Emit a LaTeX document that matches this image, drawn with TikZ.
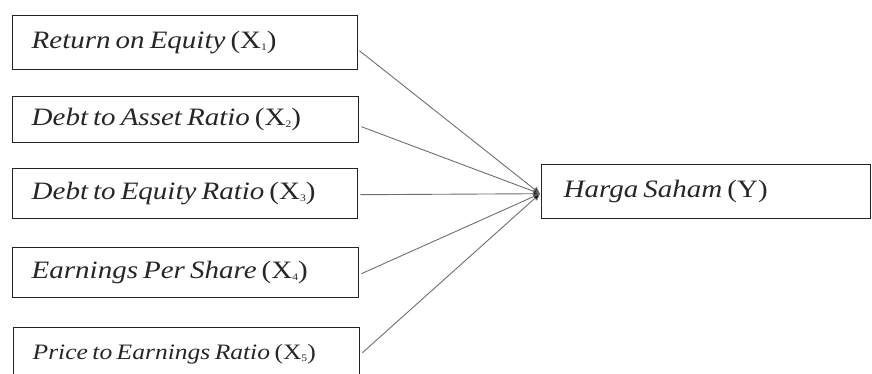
\documentclass[tikz,border=0pt]{standalone}
\usepackage{fontspec}
\setmainfont[FakeStretch=1.16,WordSpace=0.7]{Liberation Serif}
\usetikzlibrary{arrows.meta}
\definecolor{boxline}{RGB}{35,35,35}
\definecolor{conn}{RGB}{110,110,110}
\newcommand{\sbx}[1]{\raisebox{-1.5pt}{\fontsize{10}{10}\selectfont #1}}
\newcommand{\boxtxt}[2]{\makebox[#1][l]{#2}}
\tikzset{
  varbox/.style={draw=boxline, line width=1.4pt, anchor=north west, inner xsep=19pt, inner ysep=0pt,
    font=\fontsize{25}{27}\selectfont, text=black!85},
  link/.style={draw=conn, line width=0.9pt, -{Triangle[length=7pt,width=6pt,fill=black]}}
}
\begin{document}
\begin{tikzpicture}[x=1pt,y=-1pt]
\useasboundingbox (0,0) rectangle (872,374);
\clip (0,0) rectangle (872,374);
\node[varbox, minimum height=54pt] (x1) at (12,15) {\boxtxt{307pt}{\textit{Return on Equity} (X\sbx{1})}};
\node[varbox, minimum height=46pt] (x2) at (12,96) {\boxtxt{308pt}{\textit{Debt to Asset Ratio} (X\sbx{2})}};
\node[varbox, minimum height=50pt] (x3) at (12,168) {\boxtxt{307pt}{\textit{Debt to Equity Ratio} (X\sbx{3})}};
\node[varbox, minimum height=50pt] (x4) at (12,247) {\boxtxt{308pt}{\textit{Earnings Per Share} (X\sbx{4})}};
\node[varbox, minimum height=54pt, font=\fontsize{22}{24}\selectfont] (x5) at (13,327) {\boxtxt{308pt}{\textit{Price to Earnings Ratio} (X\sbx{5})}};
\node[varbox, inner xsep=22pt, minimum height=54pt] (y) at (541,164) {\boxtxt{285pt}{\textit{Harga Saham} (Y)}};
\coordinate (tip) at ([xshift=-1pt,yshift=-2pt]y.west);
\draw[link] ([xshift=1pt,yshift=-8pt]x1.east) -- (tip);
\draw[link] ([xshift=2pt,yshift=-7pt]x2.east) -- (tip);
\draw[link] ([xshift=2pt,yshift=-1pt]x3.east) -- (tip);
\draw[link] ([xshift=2pt,yshift=-1pt]x4.east) -- (tip);
\draw[link] ([xshift=2pt,yshift=2pt]x5.east) -- (tip);
\end{tikzpicture}
\end{document}
